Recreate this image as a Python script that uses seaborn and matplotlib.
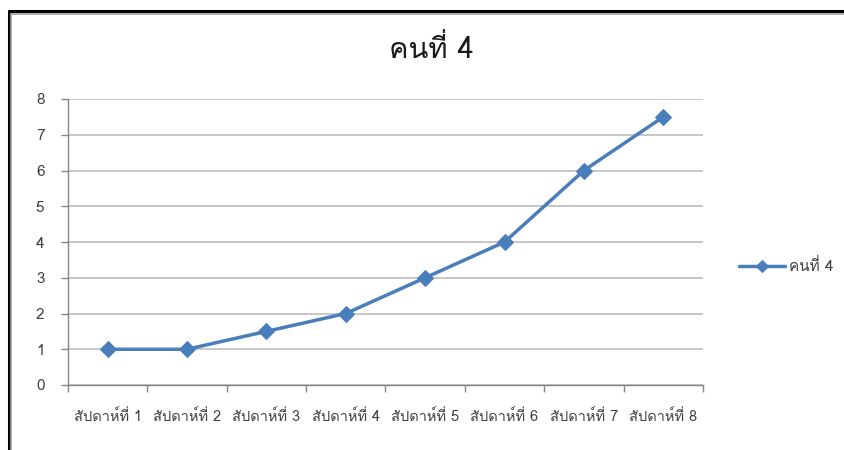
import matplotlib
matplotlib.use("Agg")
import matplotlib.pyplot as plt
import seaborn as sns
import pandas as pd
from matplotlib.lines import Line2D
from matplotlib.ticker import FixedLocator

categories = ["สัปดาห์ที่ 1", "สัปดาห์ที่ 2", "สัปดาห์ที่ 3", "สัปดาห์ที่ 4",
              "สัปดาห์ที่ 5", "สัปดาห์ที่ 6", "สัปดาห์ที่ 7", "สัปดาห์ที่ 8"]
values = [1, 1, 1.5, 2, 3, 4, 6, 7.5]
series_name = "คนที่ 4"
title = "คนที่ 4"
yticks = [0, 1, 2, 3, 4, 5, 6, 7, 8]

sns.set_theme(style="white")
plt.rcParams['font.family'] = ["Loma", "DejaVu Sans"]

df = pd.DataFrame({"cat": categories, "val": values, "series": series_name})

fig = plt.figure(figsize=(8.45, 4.5), dpi=100)
ax = fig.add_axes([68/845, 65/450, 635/845, 286/450])

blue = "#4A7EBB"
sns.lineplot(data=df, x="cat", y="val", hue="series", palette=[blue], marker="D",
             markersize=8, linewidth=2.5, markeredgecolor=blue, ax=ax, sort=False)

ax.set_xlim(-0.5, len(categories) - 0.5)
ax.set_ylim(0, 8)
ax.set_yticks(yticks)
ax.set_yticklabels([str(t) for t in yticks], fontsize=11, color="#404040")
ax.set_xticks(range(len(categories)))
ax.set_xticklabels(categories, fontsize=10.5, color="#404040")
ax.tick_params(axis="x", length=0, pad=17)
ax.tick_params(axis="y", length=5, color="#868686", width=1, left=True, pad=12)
ax.set_xlabel("")
ax.set_ylabel("")
ax.grid(axis="y", color="#BEBEBE", linewidth=1.2)
ax.set_axisbelow(True)
for s in ["top", "right"]:
    ax.spines[s].set_visible(False)
for s in ["left", "bottom"]:
    ax.spines[s].set_color("#868686")
    ax.spines[s].set_linewidth(1)

# category boundary tick marks on x-axis
ax.xaxis.set_minor_locator(FixedLocator([i - 0.5 for i in range(len(categories) + 1)]))
ax.tick_params(axis="x", which="minor", length=5, color="#868686", width=1, bottom=True)

fig.text(431/845, 1 - 50/450, title, fontsize=21, fontweight="normal", color="#1a1a1a",
         ha="center", va="center")

leg = ax.legend(loc="center left", bbox_to_anchor=(1.035, 0.415), frameon=False,
                fontsize=11, handlelength=3.0, handletextpad=0.3, markerscale=0.8)
for t in leg.get_texts():
    t.set_color("#404040")

# outer frame
fig.add_artist(Line2D([9/845, 9/845], [0, 1 - 11/450], transform=fig.transFigure,
                      color="black", linewidth=2.2))
fig.add_artist(Line2D([9/845, 1], [1 - 11/450, 1 - 11/450], transform=fig.transFigure,
                      color="black", linewidth=2.2))
fig.add_artist(Line2D([11.5/845, 11.5/845], [0, 1 - 13.5/450], transform=fig.transFigure,
                      color="#A0A0A0", linewidth=1.2))
fig.add_artist(Line2D([11.5/845, 1], [1 - 13.5/450, 1 - 13.5/450], transform=fig.transFigure,
                      color="#A0A0A0", linewidth=1.2))

fig.savefig("out.png", dpi=100, facecolor="white")
